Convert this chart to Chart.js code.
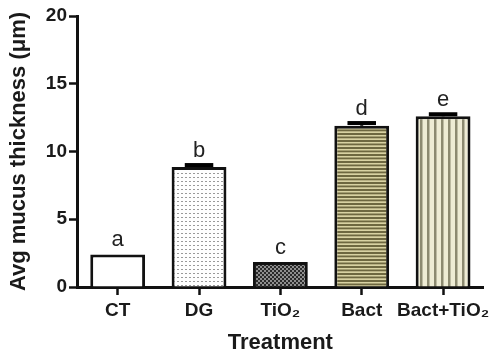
<!DOCTYPE html>
<html>
<head>
<meta charset="utf-8">
<script src="https://cdn.jsdelivr.net/npm/chart.js@4.4.0/dist/chart.umd.min.js"></script>
<style>
  html, body { margin: 0; padding: 0; background: #fff; }
  #wrap { width: 494px; height: 356px; }
</style>
</head>
<body>
<div id="wrap"><canvas id="c" width="494" height="356"></canvas></div>
<script>
const categories = ['CT', 'DG', 'TiO₂', 'Bact', 'Bact+TiO₂'];
const meanValues = [2.4, 8.85, 1.85, 11.9, 12.6];
const errorValues = [0, 0.15, 0, 0.2, 0.15];
const groupLetters = ['a', 'b', 'c', 'd', 'e'];
const yTicks = [0, 5, 10, 15, 20];

const FONT = '"Liberation Sans", Arial, Helvetica, sans-serif';

function makePattern(w, h, draw) {
  const cv = document.createElement('canvas');
  cv.width = w; cv.height = h;
  const g = cv.getContext('2d');
  draw(g, w, h);
  return document.getElementById('c').getContext('2d').createPattern(cv, 'repeat');
}

const patDots = makePattern(4, 4, (g, w, h) => {
  g.fillStyle = '#ffffff'; g.fillRect(0, 0, w, h);
  g.fillStyle = '#9a9a9a'; g.fillRect(1, 1, 2, 1);
});
const patCheck = makePattern(4, 4, (g, w, h) => {
  g.fillStyle = '#8e8e8e'; g.fillRect(0, 0, w, h);
  g.fillStyle = '#2a2a2a'; g.fillRect(0, 0, 2, 2); g.fillRect(2, 2, 2, 2);
});
const patHoriz = makePattern(7, 7, (g, w, h) => {
  g.fillStyle = '#d8d2a2'; g.fillRect(0, 0, w, h);
  g.fillStyle = '#6e6840'; g.fillRect(0, 0, w, 2); g.fillRect(0, 3.5, w, 1.8);
});
const patVert = makePattern(7, 7, (g, w, h) => {
  g.fillStyle = '#eeecd4'; g.fillRect(0, 0, w, h);
  g.fillStyle = '#8c8a70'; g.fillRect(0, 0, 2.5, h);
});

const barFills = ['#ffffff', patDots, patCheck, patHoriz, patVert];

const annotate = {
  id: 'annotate',
  afterDatasetsDraw(chart) {
    const ctx = chart.ctx;
    const meta = chart.getDatasetMeta(0);
    const ys = chart.scales.y;
    ctx.save();
    meta.data.forEach((bar, i) => {
      const x = bar.x;
      const half = bar.width / 2;
      const yTop = ys.getPixelForValue(meanValues[i] + errorValues[i]);
      const yBar = ys.getPixelForValue(meanValues[i]);
      if (errorValues[i] > 0) {
        ctx.strokeStyle = '#000';
        ctx.lineWidth = 3;
        ctx.beginPath();
        ctx.moveTo(x, yBar);
        ctx.lineTo(x, yTop);
        ctx.stroke();
        ctx.lineWidth = 4;
        ctx.beginPath();
        ctx.moveTo(x - half * 0.52, yTop);
        ctx.lineTo(x + half * 0.52, yTop);
        ctx.stroke();
      }
      ctx.fillStyle = '#222';
      ctx.font = '22px ' + FONT;
      ctx.textAlign = 'center';
      ctx.textBaseline = 'alphabetic';
      ctx.fillText(groupLetters[i], x, yTop - 8);
    });
    ctx.restore();
  }
};

new Chart(document.getElementById('c'), {
  type: 'bar',
  data: {
    labels: categories,
    datasets: [{
      data: meanValues,
      backgroundColor: barFills,
      borderColor: '#111',
      borderWidth: 3,
      borderSkipped: 'bottom',
      categoryPercentage: 1.0,
      barPercentage: 0.674
    }]
  },
  options: {
    responsive: false,
    animation: false,
    devicePixelRatio: 1,
    layout: { padding: { left: 0, right: 9, top: 16, bottom: 0 } },
    plugins: { legend: { display: false }, tooltip: { enabled: false } },
    scales: {
      x: {
        offset: true,
        grid: { display: true, offset: false, drawOnChartArea: false, drawTicks: true, tickLength: 8, tickWidth: 2.5, tickColor: '#111' },
        border: { display: true, color: '#111', width: 3 },
        ticks: { color: '#1a1a1a', font: { family: FONT, size: 19, weight: 'bold' }, padding: 4, maxRotation: 0, minRotation: 0, autoSkip: false },
        title: { display: true, text: 'Treatment', color: '#1a1a1a', font: { family: FONT, size: 22, weight: 'bold' }, padding: { top: 0, bottom: 0 } },
        afterFit(s) { s.height = 69; }
      },
      y: {
        min: 0, max: 20,
        afterBuildTicks(s) { s.ticks = yTicks.map(v => ({ value: v })); },
        grid: { display: true, drawOnChartArea: false, drawTicks: true, tickLength: 8, tickWidth: 2.5, tickColor: '#111' },
        border: { display: true, color: '#111', width: 3 },
        ticks: { color: '#1a1a1a', font: { family: FONT, size: 19, weight: 'bold' }, padding: 2 },
        title: { display: true, text: 'Avg mucus thickness (μm)', color: '#1a1a1a', font: { family: FONT, size: 22, weight: 'bold' }, padding: { top: 6, bottom: 0 } },
        afterFit(s) { s.width = 77; }
      }
    }
  },
  plugins: [annotate]
});
</script>
</body>
</html>
